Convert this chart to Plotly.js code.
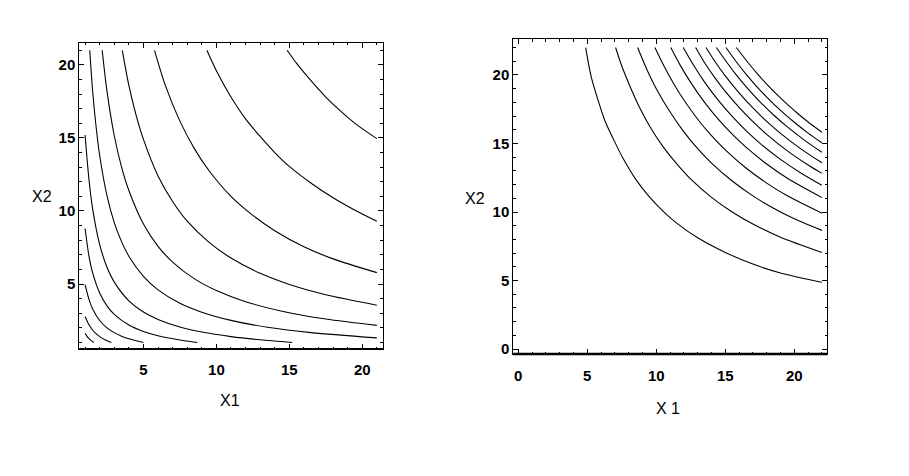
<!DOCTYPE html>
<html>
<head>
<meta charset="utf-8">
<script src="https://cdn.plot.ly/plotly-3.0.1.min.js"></script>
<style>html,body{margin:0;padding:0;background:#fff;}#chart{width:909px;height:476px;}</style>
</head>
<body>
<div id="chart"></div>
<script>
// Tick labels
const leftTicks = [5, 10, 15, 20];
const rightTicks = [0, 5, 10, 15, 20];
const axisTitles = {leftX: "X1", leftY: "X2", rightX: "X 1", rightY: "X2"};

// Left panel contour curves (x1 values / x2 values)
const leftX = [
  [14.85, 15.5, 16.5, 17.5, 18.5, 19.5, 21],
  [9.35, 10, 11, 12, 13, 14, 15, 16.5, 18, 19.5, 21],
  [5.76, 6.5, 7.5, 8.5, 9.5, 11, 12.5, 14, 16, 18, 21],
  [3.55, 4, 4.5, 5, 6, 7, 8, 9.5, 11, 13, 15, 17.5, 21],
  [2.17, 2.5, 3, 3.5, 4, 5, 6, 7, 8.5, 10, 12, 14.5, 17.5, 21],
  [1.32, 1.5, 1.75, 2, 2.5, 3, 3.5, 4, 5, 6, 7.5, 9, 11, 13.5, 16.5, 21],
  [1, 1.25, 1.5, 2, 2.5, 3, 4, 5, 6, 7.5, 9, 11, 13, 15.2],
  [1, 1.25, 1.5, 2, 2.5, 3, 4, 5, 6, 7.5, 8.7],
  [1, 1.25, 1.5, 2, 2.5, 3, 3.5, 4, 5],
  [1, 1.25, 1.5, 1.75, 2, 2.4, 2.8],
  [1, 1.2, 1.4, 1.6]
];
const leftY = [
  [21, 20.1, 18.9, 17.8, 16.85, 16.0, 14.95],
  [21, 19.6, 17.8, 16.3, 15.1, 14.0, 13.05, 11.9, 10.9, 10.05, 9.3],
  [21, 18.6, 16.15, 14.25, 12.75, 11.0, 9.7, 8.65, 7.55, 6.72, 5.78],
  [21, 18.6, 16.55, 14.9, 12.4, 10.65, 9.3, 7.85, 6.78, 5.73, 4.97, 4.26, 3.55],
  [21, 18.2, 15.15, 13.0, 11.4, 9.1, 7.58, 6.5, 5.35, 4.55, 3.79, 3.14, 2.6, 2.17],
  [21, 18.4, 15.8, 13.8, 11.05, 9.2, 7.9, 6.9, 5.52, 4.6, 3.68, 3.07, 2.51, 2.04, 1.67, 1.31],
  [15.2, 12.3, 10.25, 7.7, 6.15, 5.13, 3.85, 3.08, 2.57, 2.05, 1.71, 1.4, 1.18, 1.0],
  [8.8, 7.0, 5.83, 4.38, 3.5, 2.92, 2.19, 1.75, 1.46, 1.17, 1.0],
  [4.95, 4.0, 3.33, 2.5, 2.0, 1.67, 1.43, 1.25, 1.0],
  [2.78, 2.24, 1.87, 1.6, 1.4, 1.17, 1.0],
  [1.62, 1.33, 1.14, 1.0]
];

// Right panel contour curves
const rightX = [
  [4.88, 5.3, 5.8, 6.3, 6.9, 7.6, 8.5, 9.5, 10.5, 11.5, 13, 15, 17, 19, 22],
  [7.05, 7.5, 8, 8.75, 9.5, 10.5, 11.5, 12.5, 14, 15.5, 17, 19, 22],
  [8.65, 9.25, 10, 11, 12, 13, 14, 15.5, 17, 18.5, 20, 22],
  [9.9, 10.5, 11.25, 12, 13, 14, 15, 16.5, 18, 19.5, 22],
  [11.05, 11.75, 12.5, 13.5, 14.5, 15.5, 16.5, 18, 19.5, 22],
  [11.95, 12.75, 13.5, 14.5, 15.5, 16.5, 17.5, 19, 20.5, 22],
  [12.85, 13.5, 14.25, 15, 16, 17, 18, 19.5, 21, 22],
  [13.6, 14.25, 15, 16, 17, 18, 19, 20.5, 22],
  [14.35, 15, 15.75, 16.5, 17.5, 18.5, 19.5, 20.75, 22],
  [15.05, 15.75, 16.5, 17.25, 18, 19, 20, 21, 22],
  [15.8, 16.5, 17.25, 18, 18.75, 19.5, 20.25, 21, 22]
];
const rightY = [
  [22, 19.8, 18.1, 16.6, 15.3, 13.9, 12.4, 11.1, 10.05, 9.17, 8.12, 7.05, 6.2, 5.55, 4.87],
  [22, 20.65, 19.4, 17.7, 16.3, 14.75, 13.5, 12.4, 11.07, 10.0, 9.12, 8.16, 7.05],
  [22, 20.55, 19.0, 17.3, 15.85, 14.62, 13.57, 12.26, 11.18, 10.27, 9.5, 8.66],
  [22, 20.76, 19.38, 18.17, 16.77, 15.57, 14.53, 13.21, 12.11, 11.18, 9.91],
  [22, 20.68, 19.44, 18.0, 16.76, 15.68, 14.73, 13.5, 12.46, 11.05],
  [22, 20.63, 19.48, 18.14, 16.97, 15.94, 15.03, 13.84, 12.83, 11.95],
  [22, 20.89, 19.79, 18.8, 17.63, 16.59, 15.67, 14.46, 13.43, 12.82],
  [22, 20.98, 19.93, 18.69, 17.59, 16.61, 15.74, 14.59, 13.59],
  [22, 21.07, 20.06, 19.15, 18.06, 17.08, 16.21, 15.23, 14.36],
  [22, 21.02, 20.06, 19.19, 18.39, 17.42, 16.55, 15.76, 15.05],
  [22, 21.09, 20.17, 19.33, 18.56, 17.85, 17.19, 16.57, 15.82]
];

const traces = [];
leftX.forEach((xs, i) => traces.push({
  type: 'scatter', mode: 'lines', x: xs, y: leftY[i], xaxis: 'x', yaxis: 'y',
  line: {color: '#000', width: 1.1, shape: 'spline', smoothing: 0.8}, hoverinfo: 'skip'
}));
rightX.forEach((xs, i) => traces.push({
  type: 'scatter', mode: 'lines', x: xs, y: rightY[i], xaxis: 'x2', yaxis: 'y2',
  line: {color: '#000', width: 1.1, shape: 'spline', smoothing: 0.8}, hoverinfo: 'skip'
}));

const tickFont = {family: 'Liberation Sans, Arial, sans-serif', size: 15, color: '#000', weight: 'bold'};
function ax(domain, range, ticks, anchor, extra) {
  return Object.assign({
    domain: domain, range: range, anchor: anchor,
    tickmode: 'array', tickvals: ticks, ticktext: ticks.map(String),
    ticks: 'inside', ticklen: 5, tickwidth: 1, tickcolor: '#000',
    minor: {tickmode: 'linear', tick0: 0, dtick: 1, ticks: 'inside', ticklen: 2.5, tickcolor: '#000', showgrid: false},
    showline: true, linecolor: '#000', linewidth: 1, mirror: 'allticks',
    showgrid: false, zeroline: false, tickfont: tickFont, fixedrange: true
  }, extra || {});
}

const titleFont = {family: 'Liberation Sans, Arial, sans-serif', size: 16, color: '#000'};
const layout = {
  width: 909, height: 476,
  margin: {l: 0, r: 0, t: 0, b: 0},
  paper_bgcolor: '#fff', plot_bgcolor: '#fff',
  showlegend: false,
  xaxis: ax([0.0872, 0.4213], [0.6, 21.42], leftTicks, 'y', {ticklabelstandoff: 7}),
  yaxis: ax([0.2668, 0.9097], [0.55, 21.5], leftTicks, 'x'),
  xaxis2: ax([0.5647, 0.9101], [-0.36, 22.39], rightTicks, 'y2', {ticklabelstandoff: 8}),
  yaxis2: ax([0.2563, 0.9174], [-0.36, 22.6], rightTicks, 'x2'),
  shapes: [
    {type: 'line', xref: 'x domain', yref: 'y domain', x0: 0, x1: 1, y0: 0, y1: 0, line: {color: '#000', width: 2}},
    {type: 'line', xref: 'x2 domain', yref: 'y2 domain', x0: 0, x1: 1, y0: 0, y1: 0, line: {color: '#000', width: 2.6}}
  ],
  annotations: [
    {text: axisTitles.leftX, xref: 'paper', yref: 'paper', x: 0.253, y: 0.1576, xanchor: 'center', yanchor: 'middle', showarrow: false, font: titleFont},
    {text: axisTitles.leftY, xref: 'paper', yref: 'paper', x: 0.0459, y: 0.5868, xanchor: 'center', yanchor: 'middle', showarrow: false, font: titleFont},
    {text: axisTitles.rightX, xref: 'paper', yref: 'paper', x: 0.7352, y: 0.1408, xanchor: 'center', yanchor: 'middle', showarrow: false, font: titleFont},
    {text: axisTitles.rightY, xref: 'paper', yref: 'paper', x: 0.5226, y: 0.5834, xanchor: 'center', yanchor: 'middle', showarrow: false, font: titleFont}
  ]
};

Plotly.newPlot('chart', traces, layout, {displayModeBar: false, staticPlot: true});
</script>
</body>
</html>
